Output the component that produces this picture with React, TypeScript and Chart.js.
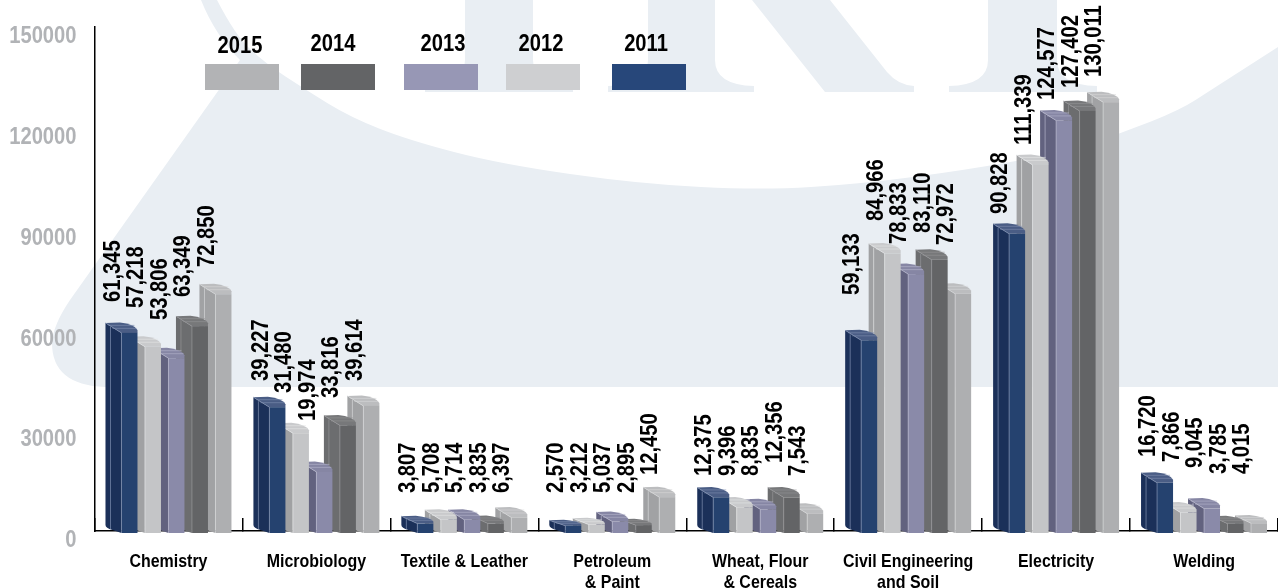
import React, { useEffect, useRef } from "react";
import { Chart, registerables } from "chart.js";

Chart.register(...registerables);

const categories = [
  "Chemistry",
  "Microbiology",
  "Textile & Leather",
  ["Petroleum", "& Paint"],
  ["Wheat, Flour", "& Cereals"],
  ["Civil Engineering", "and Soil"],
  "Electricity",
  "Welding",
];
const series = ["2011", "2012", "2013", "2014", "2015"];

const values2011 = [61345, 39227, 3807, 2570, 12375, 59133, 90828, 16720];
const values2012 = [57218, 31480, 5708, 3212, 9396, 84966, 111339, 7866];
const values2013 = [53806, 19974, 5714, 5037, 8835, 78833, 124577, 9045];
const values2014 = [63349, 33816, 3835, 2895, 12356, 83110, 127402, 3785];
const values2015 = [72850, 39614, 6397, 12450, 7543, 72972, 130011, 4015];

// Axis level at which each value label starts (the labels do not sit at a fixed gap from the bars)
const labelLevel2011 = [67560, 44050, 10710, 10710, 15770, 69640, 93740, 21430];
const labelLevel2012 = [65770, 40470, 10710, 10710, 15770, 91660, 114280, 19940];
const labelLevel2013 = [62200, 32140, 10710, 10710, 15770, 84820, 127670, 18150];
const labelLevel2014 = [69040, 38990, 10710, 10710, 19640, 88090, 131240, 16370];
const labelLevel2015 = [77970, 44050, 10710, 16070, 15770, 84520, 134520, 16370];

const yTicks = [0, 30000, 60000, 90000, 120000, 150000];

const legendColors = ["#27477a", "#cecfd1", "#9797b5", "#636466", "#b2b3b5"];
const frontColors = ["#25426f", "#c4c5c7", "#8a8aa9", "#636466", "#aeafb1"];
const sideColors = ["#1b3059", "#a0a1a3", "#62627f", "#6c6d6f", "#a1a2a4"];
const topColors = ["#4a5d85", "#c9cacc", "#8686a4", "#77787a", "#bcbdbf"];
const edgeColors = ["#7f8fb0", "#e4e5e6", "#b6b6cc", "#939496", "#d6d7d8"];

const allValues = [values2011, values2012, values2013, values2014, values2015];
const allLevels = [labelLevel2011, labelLevel2012, labelLevel2013, labelLevel2014, labelLevel2015];

const FONT = '"Liberation Sans", Arial, sans-serif';
const CONDENSE = 0.84;
const WASH = "#e9eef3";

const legendSlots: Record<string, { x: number; text: number; ty: number }> = {
  "2015": { x: 205, text: 240, ty: 46 },
  "2014": { x: 301, text: 333, ty: 44 },
  "2013": { x: 404, text: 443, ty: 44 },
  "2012": { x: 506, text: 541, ty: 44 },
  "2011": { x: 612, text: 646, ty: 44 },
};

const arcEdge = [
  [235, 35], [265, 63], [306, 90], [350, 117], [408, 140], [500, 164], [640, 184], [762, 190],
  [860, 184], [966, 170], [1060, 153], [1122, 133], [1180, 110], [1211, 90],
];

const watermarkPlugin = {
  id: "watermark",
  beforeDraw(chart: any) {
    const c = chart.ctx;
    c.save();
    c.fillStyle = WASH;
    // swoosh
    c.beginPath();
    c.moveTo(201, 0);
    c.lineTo(217, 0);
    arcEdge.forEach((p, i) => {
      const n = arcEdge[i + 1] || [1278, 47];
      c.quadraticCurveTo(p[0], p[1], (p[0] + n[0]) / 2, (p[1] + n[1]) / 2);
    });
    c.lineTo(1278, 47);
    c.lineTo(1278, 387);
    c.lineTo(105, 387);
    c.quadraticCurveTo(52, 385, 52, 343);
    c.quadraticCurveTo(53, 325, 70, 300);
    c.lineTo(240, 60);
    c.quadraticCurveTo(215, 35, 201, 0);
    c.closePath();
    c.fill();
    // first stem
    c.beginPath();
    c.moveTo(465, 0);
    c.lineTo(533, 0);
    c.lineTo(533, 60);
    c.quadraticCurveTo(533, 85, 573, 86);
    c.lineTo(573, 92);
    c.lineTo(425, 92);
    c.lineTo(425, 86);
    c.quadraticCurveTo(465, 85, 465, 60);
    c.closePath();
    c.fill();
    // N-shaped letter
    c.beginPath();
    c.moveTo(648, 0);
    c.lineTo(715, 0);
    c.lineTo(715, 60);
    c.quadraticCurveTo(715, 85, 754, 86);
    c.lineTo(754, 92);
    c.lineTo(608, 92);
    c.lineTo(608, 86);
    c.quadraticCurveTo(648, 85, 648, 60);
    c.closePath();
    c.fill();
    c.beginPath();
    c.moveTo(752, 0);
    c.lineTo(830, 0);
    c.lineTo(887, 72);
    c.quadraticCurveTo(898, 85, 914, 86);
    c.lineTo(914, 92);
    c.lineTo(825, 92);
    c.closePath();
    c.fill();
    c.beginPath();
    c.moveTo(988, 0);
    c.lineTo(1057, 0);
    c.lineTo(1057, 60);
    c.quadraticCurveTo(1057, 85, 1097, 86);
    c.lineTo(1097, 92);
    c.lineTo(949, 92);
    c.lineTo(949, 86);
    c.quadraticCurveTo(988, 85, 988, 60);
    c.closePath();
    c.fill();
    c.restore();
  },
};

const bars3dPlugin = {
  id: "bars3d",
  beforeDatasetDraw(chart: any, args: any) {
    const c = chart.ctx;
    const s = args.index;
    args.meta.data.forEach((bar: any) => {
      const half = bar.width / 2;
      const L = bar.x - half;
      const M = bar.x;
      const R = bar.x + half;
      const top = bar.y - 2;
      const base = bar.base;
      const dy = Math.min(10, (base - top) * 0.5);
      const foot = base + 2;
      c.save();
      // side
      c.fillStyle = sideColors[s];
      c.beginPath();
      c.moveTo(L, top);
      c.lineTo(M, top + dy);
      c.lineTo(M, foot);
      c.lineTo(L + 7, foot - 3);
      c.quadraticCurveTo(L, foot - 5, L, foot - 8);
      c.closePath();
      c.fill();
      // top
      c.fillStyle = topColors[s];
      c.beginPath();
      c.moveTo(L, top);
      c.lineTo(L + half * 0.9, top - 0.5);
      c.quadraticCurveTo(R - 3, top + 1, R, top + dy * 0.7);
      c.lineTo(R, top + dy);
      c.lineTo(M, top + dy);
      c.closePath();
      c.fill();
      c.strokeStyle = edgeColors[s];
      c.lineWidth = 0.6;
      c.beginPath();
      c.moveTo(L + 3, top + dy * 0.25);
      c.lineTo(R - 3, top + dy * 0.25);
      c.moveTo(L + 7, top + dy * 0.55);
      c.lineTo(R - 1, top + dy * 0.55);
      c.stroke();
      // front
      c.fillStyle = frontColors[s];
      c.fillRect(M, top + dy, half, foot - top - dy);
      // bright corner and rib lines
      c.strokeStyle = edgeColors[s];
      c.lineWidth = 0.7;
      c.beginPath();
      c.moveTo(M, top + dy);
      c.lineTo(M, foot);
      c.moveTo(M, top + dy);
      c.lineTo(L, top);
      c.moveTo(L + 5, top + dy * 0.4);
      c.lineTo(L + 5, foot - 4);
      c.stroke();
      c.restore();
    });
    return false;
  },
};

const valueLabelPlugin = {
  id: "valueLabels",
  afterDatasetsDraw(chart: any) {
    const c = chart.ctx;
    const yScale = chart.scales.y;
    c.save();
    c.font = `bold 24px ${FONT}`;
    c.fillStyle = "#000";
    c.textAlign = "left";
    c.textBaseline = "middle";
    chart.data.datasets.forEach((ds: any, s: number) => {
      const meta = chart.getDatasetMeta(s);
      ds.data.forEach((v: number, i: number) => {
        const bar = meta.data[i];
        const y = yScale.getPixelForValue(allLevels[s][i]);
        c.save();
        c.translate(bar.x - 8.5, y - 2);
        c.rotate(-Math.PI / 2);
        c.fillText(v.toLocaleString("en-US"), 0, 0);
        c.restore();
      });
    });
    c.restore();
  },
};

const legendPlugin = {
  id: "topLegend",
  afterDraw(chart: any) {
    const c = chart.ctx;
    c.save();
    chart.data.datasets.forEach((ds: any, s: number) => {
      const slot = legendSlots[ds.label];
      c.fillStyle = legendColors[s];
      c.fillRect(slot.x, 64, 74, 26);
      c.fillStyle = "#000";
      c.font = `bold 24px ${FONT}`;
      c.textAlign = "center";
      c.textBaseline = "middle";
      c.fillText(ds.label, slot.text, slot.ty);
    });
    c.restore();
  },
};

export default function App() {
  const ref = useRef<HTMLCanvasElement>(null);
  useEffect(() => {
    // No condensed face is installed, so every text run is narrowed around its own anchor.
    const ctx: any = ref.current!.getContext("2d");
    const plainFillText = ctx.fillText.bind(ctx);
    ctx.fillText = (text: string, x: number, y: number, maxWidth?: number) => {
      ctx.save();
      ctx.translate(x, y);
      ctx.scale(CONDENSE, 1);
      if (maxWidth === undefined) plainFillText(text, 0, 0);
      else plainFillText(text, 0, 0, maxWidth);
      ctx.restore();
    };
    const chart = new Chart(ref.current!, {
      type: "bar",
      data: {
        labels: categories as any,
        datasets: series.map((name, s) => ({
          label: name,
          data: allValues[s],
          backgroundColor: legendColors[s],
          categoryPercentage: 0.794,
          barPercentage: 1.362,
        })),
      },
      options: {
        responsive: false,
        animation: false,
        layout: { padding: { top: 27, left: 0, right: 0, bottom: 0 } },
        plugins: { legend: { display: false }, tooltip: { enabled: false } },
        scales: {
          x: {
            afterFit: (s: any) => {
              s.height = 57;
            },
            grid: {
              offset: true,
              drawOnChartArea: false,
              color: "#000",
              lineWidth: 1.5,
              tickLength: -13,
            },
            border: { color: "#000", width: 1.5 },
            ticks: {
              autoSkip: false,
              maxRotation: 0,
              padding: 34,
              color: "#000",
              font: { family: FONT, weight: "bold", size: 19, lineHeight: 1.08 },
            },
          },
          y: {
            min: 0,
            max: 150000,
            afterFit: (s: any) => {
              s.width = 94.5;
            },
            afterBuildTicks: (s: any) => {
              s.ticks = yTicks.map((value) => ({ value }));
            },
            grid: { display: false },
            border: { color: "#000", width: 1.5 },
            ticks: {
              padding: 10,
              labelOffset: 9.5,
              color: "#b1b3b6",
              font: { family: FONT, weight: "bold", size: 24 },
              callback: (v: any) => String(v),
            },
          },
        },
      } as any,
      plugins: [watermarkPlugin, bars3dPlugin, valueLabelPlugin, legendPlugin],
    });
    return () => chart.destroy();
  }, []);
  return (
    <div style={{ position: "fixed", left: 0, top: 0, width: 1278, height: 588, background: "#fff" }}>
      <canvas ref={ref} width={1278} height={588} style={{ display: "block" }} />
    </div>
  );
}
